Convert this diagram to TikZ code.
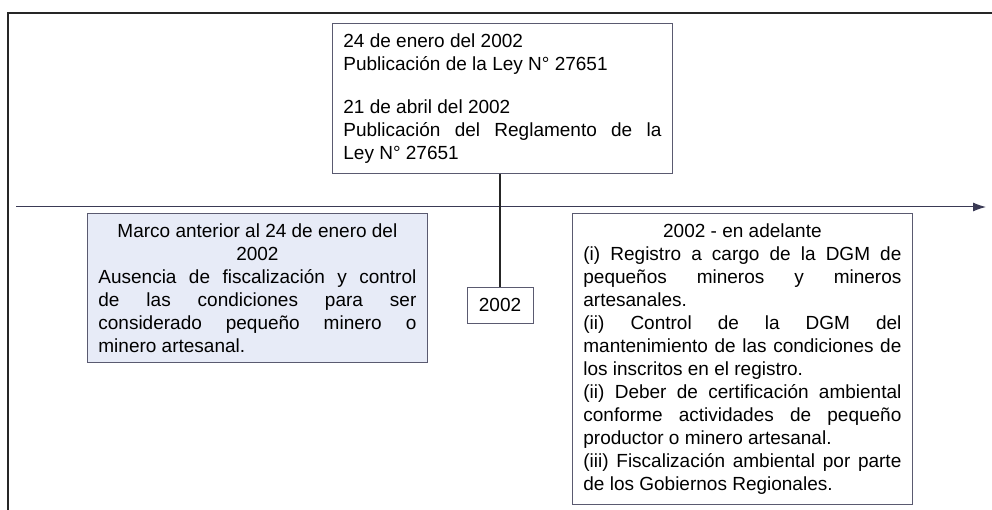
\documentclass[tikz,border=0pt]{standalone}
\usepackage{fontspec}
\setmainfont{Liberation Sans}
\usetikzlibrary{arrows.meta}
\definecolor{boxline}{HTML}{5A5A70}
\definecolor{boxfill}{HTML}{E7EBF7}
\definecolor{axis}{HTML}{3A3A55}
\tikzset{
  txtbox/.style={draw=boxline, line width=0.8pt, text width=318pt, align=justify,
    inner xsep=11pt, inner ysep=10pt, font=\fontsize{19}{23}\selectfont, anchor=north west},
  yearbox/.style={draw=boxline, line width=0.8pt, font=\fontsize{19}{23}\selectfont,
    minimum width=66pt, minimum height=36pt, inner sep=0pt, anchor=north},
  frameline/.style={line width=1.6pt, draw=black!85},
  axisline/.style={line width=1pt, draw=axis},
}
\begin{document}
\begin{tikzpicture}[x=1pt,y=-1pt]
\useasboundingbox (0,0) rectangle (992,510);
% frame
\coordinate (fbl) at (8,510);
\coordinate (ftl) at (8,13);
\coordinate (ftr) at (992,13);
\draw[frameline] (fbl) -- (ftl) -- (ftr);
% timeline
\coordinate (tl) at (16,207);
\coordinate (tr) at (986,207);
\draw[axisline, -{Latex[length=13pt,width=9pt]}] (tl) -- (tr);
% top box
\node[txtbox] (top) at (332,23) {24 de enero del 2002\\
Publicación de la Ley N° 27651\par\vspace{20pt}
21 de abril del 2002\\
Publicación del Reglamento de la\linebreak Ley N° 27651};
% year box
\node[yearbox] (year) at (500,287) {2002};
\draw[line width=1.5pt, draw=black!85] (top.south -| year.north) -- (year.north);
% left box
\node[txtbox, fill=boxfill] (left) at (87,213) {{\centering Marco anterior al 24 de enero del\\ 2002\par}
Ausencia de fiscalización y control\linebreak de las condiciones para ser\linebreak considerado pequeño minero o\linebreak minero artesanal.};
% right box
\node[txtbox] (right) at (572,213) {{\centering 2002 - en adelante\par}
(i) Registro a cargo de la DGM de\linebreak pequeños mineros y mineros\linebreak artesanales.\\
(ii) Control de la DGM del\linebreak mantenimiento de las condiciones de\linebreak los inscritos en el registro.\\
(ii) Deber de certificación ambiental\linebreak conforme actividades de pequeño\linebreak productor o minero artesanal.\\
(iii) Fiscalización ambiental por parte\linebreak de los Gobiernos Regionales.};
\end{tikzpicture}
\end{document}
